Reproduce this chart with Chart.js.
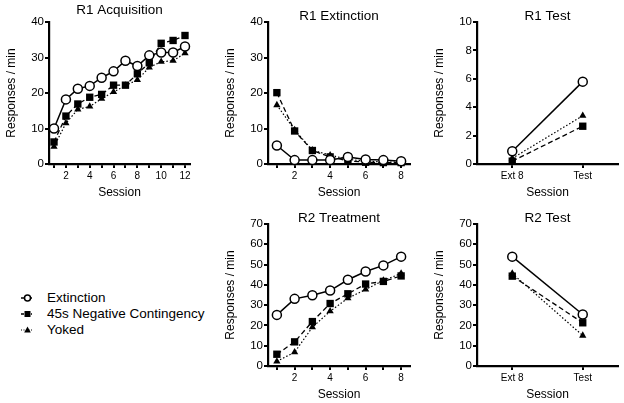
<!DOCTYPE html>
<html>
<head>
<meta charset="utf-8">
<script src="https://cdn.jsdelivr.net/npm/chart.js@4/dist/chart.umd.min.js"></script>
<style>
  body { margin:0; background:#fff; }
  #wrap { position:relative; width:624px; height:403px; font-family:"Liberation Sans", Arial, sans-serif; }
  .pane { position:absolute; }
  .leg { position:absolute; left:0; font-size:13.5px; color:#000; line-height:16px; height:16px; }
  .leg svg { position:absolute; left:18px; top:0; }
  .leg span { position:absolute; left:47px; top:0; white-space:nowrap; }
</style>
</head>
<body>
<div id="wrap">
  <div class="pane" style="left:0px;top:0px;"><canvas id="c1" width="200" height="200"></canvas></div>
  <div class="pane" style="left:219px;top:0px;"><canvas id="c2" width="201" height="200"></canvas></div>
  <div class="pane" style="left:428px;top:0px;"><canvas id="c3" width="196" height="200"></canvas></div>
  <div class="pane" style="left:219px;top:200px;"><canvas id="c4" width="201" height="202"></canvas></div>
  <div class="pane" style="left:428px;top:200px;"><canvas id="c5" width="196" height="202"></canvas></div>

  <div class="leg" style="top:290px;">
    <svg width="20" height="16"><line x1="3" y1="8" x2="14" y2="8" stroke="#000" stroke-width="1.5"/><circle cx="9.5" cy="8" r="3" fill="#fff" stroke="#000" stroke-width="1.5"/></svg>
    <span>Extinction</span>
  </div>
  <div class="leg" style="top:306px;">
    <svg width="20" height="16"><line x1="3" y1="8" x2="14" y2="8" stroke="#000" stroke-width="1.5" stroke-dasharray="3,2"/><rect x="6.5" y="5" width="6" height="6" fill="#000"/></svg>
    <span>45s Negative Contingency</span>
  </div>
  <div class="leg" style="top:322px;">
    <svg width="20" height="16"><line x1="3" y1="8" x2="14" y2="8" stroke="#000" stroke-width="1.2" stroke-dasharray="1,1.5"/><polygon points="9.5,4.5 12.8,10.5 6.2,10.5" fill="#000"/></svg>
    <span>Yoked</span>
  </div>
</div>
<script>
// ---------- DATA ----------
const acqSessions = [1,2,3,4,5,6,7,8,9,10,11,12];
const acqExtinction = [10, 18.2, 21.2, 22, 24.3, 26.1, 29.1, 27.6, 30.6, 31.4, 31.4, 33.1];
const acqNegative   = [6.2, 13.5, 16.9, 18.8, 19.6, 22.2, 22.2, 25.4, 28.5, 34, 34.8, 36.2];
const acqYoked      = [4.9, 11.5, 15.4, 16.2, 18.4, 20.3, 22.1, 23.7, 27.2, 28.8, 29.1, 31.2];

const extSessions = [1,2,3,4,5,6,7,8];
const extExtinction = [5.2, 1.1, 1.1, 1.1, 2.0, 1.3, 1.1, 0.8];
const extNegative   = [20.1, 9.3, 3.8, 2.0, 0.9, 0.5, 0.4, 0.4];
const extYoked      = [16.6, 9.6, 3.9, 2.5, 1.3, 0.8, 0.6, 0.5];

const testLabels = ['Ext 8', 'Test'];
const r1TestExtinction = [0.9, 5.8];
const r1TestNegative   = [0.2, 2.66];
const r1TestYoked      = [0.4, 3.4];

const trtSessions = [1,2,3,4,5,6,7,8];
const trtExtinction = [25.2, 33.1, 34.9, 37.2, 42.5, 46.6, 49.6, 53.9];
const trtNegative   = [5.8, 11.9, 21.9, 30.8, 35.6, 40.4, 41.7, 44.4];
const trtYoked      = [2.3, 6.8, 19.1, 27, 33.4, 37.7, 42.2, 45.6];

const r2TestExtinction = [53.9, 25.4];
const r2TestNegative   = [44.3, 21.3];
const r2TestYoked      = [45.6, 15];

const seriesNames = ['Extinction', '45s Negative Contingency', 'Yoked'];

// ---------- STYLE ----------
const FONT = '"Liberation Sans", Arial, sans-serif';
Chart.defaults.font.family = FONT;
Chart.defaults.color = '#000';

function styles(i) {
  if (i === 0) return { borderColor:'#000', borderWidth:1.5, pointStyle:'circle', pointRadius:4.5,
    pointBackgroundColor:'#fff', pointBorderColor:'#000', pointBorderWidth:1.5, borderDash:[] };
  if (i === 1) return { borderColor:'#000', borderWidth:1.3, pointStyle:'rect', pointRadius:5.2,
    pointBackgroundColor:'#000', pointBorderColor:'#000', pointBorderWidth:0, borderDash:[5,3] };
  return { borderColor:'#000', borderWidth:1.2, pointStyle:'triangle', pointRadius:4.2,
    pointBackgroundColor:'#000', pointBorderColor:'#000', pointBorderWidth:0, borderDash:[1.5,2] };
}

function makeDatasets(xs, arrs) {
  return arrs.map((arr, i) => Object.assign({
    label: seriesNames[i],
    data: xs ? arr.map((v, k) => ({ x: xs[k], y: v })) : arr,
    fill: false, tension: 0, clip: false
  }, styles(i)));
}

const titlePlugin = {
  id: 'panelTitle',
  afterDraw(chart, args, opts) {
    const ctx = chart.ctx;
    const a = chart.chartArea;
    ctx.save();
    ctx.font = '13.5px ' + FONT;
    ctx.fillStyle = '#000';
    ctx.textAlign = 'center';
    ctx.textBaseline = 'middle';
    ctx.fillText(opts.text, (a.left + a.right) / 2, opts.y);
    ctx.restore();
  }
};

function yAxis(max, step) {
  return {
    type: 'linear', min: 0, max: max,
    ticks: { stepSize: step, font: { size: 11.5 }, padding: 1, color:'#000' },
    grid: { display: true, drawOnChartArea: false, drawTicks: true, tickLength: 4, color: '#000', lineWidth: 2 },
    border: { display: true, color: '#000', width: 2.2 },
    title: { display: true, text: 'Responses / min', font: { size: 12 }, padding: { top: 4, bottom: 0 }, color:'#000' },
    afterFit(s) { s.width = 49; }
  };
}

function xLinear(min, max, ticksArr) {
  return {
    type: 'linear', min: min, max: max,
    afterBuildTicks(s) { s.ticks = ticksArr.map(v => ({ value: v })); },
    ticks: { font: { size: 10 }, padding: 2, autoSkip: false, maxRotation: 0,
      callback: (v) => (v % 2 === 0 ? String(v) : '') },
    grid: { display: true, drawOnChartArea: false, drawTicks: true, tickLength: 4, color: '#000', lineWidth: 2 },
    border: { display: true, color: '#000', width: 2.2 },
    title: { display: true, text: 'Session', font: { size: 12 }, padding: { top: 0, bottom: 0 }, color:'#000' },
    afterFit(s) { s.height = 36; }
  };
}

function xCat() {
  return {
    type: 'category', offset: true,
    ticks: { font: { size: 10 }, padding: 2, maxRotation: 0 },
    grid: { display: true, drawOnChartArea: false, drawTicks: true, tickLength: 4, color: '#000', lineWidth: 2, offset: false },
    border: { display: true, color: '#000', width: 2.2 },
    title: { display: true, text: 'Session', font: { size: 12 }, padding: { top: 0, bottom: 0 }, color:'#000' },
    afterFit(s) { s.height = 36; }
  };
}

function make(id, data, xScale, yScale, title, titleY, pad) {
  new Chart(document.getElementById(id), {
    type: 'line',
    data: data,
    options: {
      responsive: false, animation: false, devicePixelRatio: 1,
      layout: { padding: pad },
      plugins: { legend: { display: false }, tooltip: { enabled: false }, panelTitle: { text: title, y: titleY } },
      scales: { x: xScale, y: yScale }
    },
    plugins: [titlePlugin]
  });
}

make('c1', { datasets: makeDatasets(acqSessions, [acqExtinction, acqNegative, acqYoked]) },
  xLinear(0.58, 12.42, acqSessions), yAxis(40, 10), 'R1 Acquisition', 10,
  { left: 0, top: 22, right: 10, bottom: 0 });

make('c2', { datasets: makeDatasets(extSessions, [extExtinction, extNegative, extYoked]) },
  xLinear(0.5, 8.5, extSessions), yAxis(40, 10), 'R1 Extinction', 16,
  { left: 0, top: 22, right: 10, bottom: 0 });

make('c3', { labels: testLabels, datasets: makeDatasets(null, [r1TestExtinction, r1TestNegative, r1TestYoked]) },
  xCat(), yAxis(10, 2), 'R1 Test', 16,
  { left: 0, top: 22, right: 6, bottom: 0 });

make('c4', { datasets: makeDatasets(trtSessions, [trtExtinction, trtNegative, trtYoked]) },
  xLinear(0.5, 8.5, trtSessions), yAxis(70, 10), 'R2 Treatment', 18,
  { left: 0, top: 24, right: 10, bottom: 0 });

make('c5', { labels: testLabels, datasets: makeDatasets(null, [r2TestExtinction, r2TestNegative, r2TestYoked]) },
  xCat(), yAxis(70, 10), 'R2 Test', 18,
  { left: 0, top: 24, right: 6, bottom: 0 });
</script>
</body>
</html>
